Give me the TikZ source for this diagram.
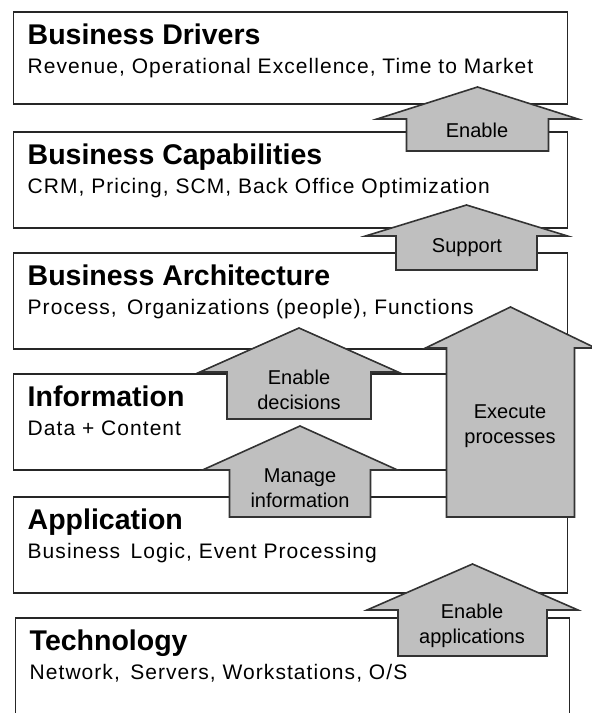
\documentclass[tikz,border=0pt]{standalone}
\usepackage{fontspec}
\setmainfont{Liberation Sans}
\newfontfamily\subfont[LetterSpace=5]{Liberation Sans}
\usetikzlibrary{positioning}
\tikzset{layer/.style={draw=black!85,line width=1.6pt,anchor=north west,inner sep=0pt,minimum width=554pt}}
\tikzset{ttl/.style={anchor=base west,inner sep=0pt,font=\fontsize{28.5}{32}\selectfont\bfseries}}
\tikzset{sub/.style={anchor=base west,inner sep=0pt,font=\fontsize{21}{24}\subfont}}
\tikzset{blk/.style={draw=black!80,line width=1.6pt,fill=black!25,line join=miter}}
\tikzset{lbl/.style={align=center,inner sep=0pt,font=\fontsize{20}{25}\selectfont}}

% block arrow pointing up: centre x, tip y, wing y, bottom y, head half width, shaft half width
\newcommand{\blockup}[6]{%
  \draw[blk] (#1,#2) -- ({#1+#5},#3) -- ({#1+#6},#3) -- ({#1+#6},#4)
    -- ({#1-#6},#4) -- ({#1-#6},#3) -- ({#1-#5},#3) -- cycle;}

\begin{document}
\begin{tikzpicture}[x=1pt,y=-1pt]
\useasboundingbox (0,0) rectangle (592,713);

% the layers
\node[layer,minimum height=92pt] (drivers) at (12.5,11) {};
\node[ttl] (driversT) at ([xshift=15pt,yshift=-33.5pt]drivers.north west) {Business Drivers};
\node[sub] (driversS) at ([xshift=15pt,yshift=-62.5pt]drivers.north west) {Revenue, Operational Excellence, Time to Market};

\node[layer,minimum height=96pt] (capab) at (12.5,131) {};
\node[ttl] (capabT) at ([xshift=15pt,yshift=-33.5pt]capab.north west) {Business Capabilities};
\node[sub] (capabS) at ([xshift=15pt,yshift=-62.5pt]capab.north west) {CRM, Pricing, SCM, Back Office Optimization};

\node[layer,minimum height=96pt] (arch) at (12.5,252) {};
\node[ttl] (archT) at ([xshift=15pt,yshift=-33.5pt]arch.north west) {Business Architecture};
\node[sub] (archS) at ([xshift=15pt,yshift=-62.5pt]arch.north west) {Process,\, Organizations (people), Functions};

\node[layer,minimum height=96pt] (info) at (12.5,373) {};
\node[ttl] (infoT) at ([xshift=15pt,yshift=-33.5pt]info.north west) {Information};
\node[sub] (infoS) at ([xshift=15pt,yshift=-62.5pt]info.north west) {Data + Content};

\node[layer,minimum height=96pt] (appl) at (12.5,496) {};
\node[ttl] (applT) at ([xshift=15pt,yshift=-33.5pt]appl.north west) {Application};
\node[sub] (applS) at ([xshift=15pt,yshift=-62.5pt]appl.north west) {Business\, Logic, Event Processing};

\node[layer,minimum height=110pt] (tech) at (14.5,617) {};
\node[ttl] (techT) at ([xshift=15pt,yshift=-33.5pt]tech.north west) {Technology};
\node[sub] (techS) at ([xshift=15pt,yshift=-62.5pt]tech.north west) {Network,\, Servers, Workstations, O/S};

% arrows between the layers
\blockup{477.5}{87}{119}{151}{100.5}{71}
\node[lbl] (enable) at (477,130) {Enable};

\blockup{466.5}{205}{236}{270}{101}{70.5}
\node[lbl] (support) at (467,248) {Support};

\blockup{299}{328}{372}{419}{99}{72}
\node[lbl] (decide) at (299,390) {Enable\\decisions};

\blockup{300}{426}{470}{517}{97.5}{70.5}
\node[lbl] (manage) at (300,488) {Manage\\information};

\blockup{510.5}{307}{348}{517}{85}{64}
\node[lbl] (execute) at (510,426) {Execute\\processes};

\blockup{472.5}{564}{610}{656}{105.5}{74.5}
\node[lbl] (apps) at (472,626) {Enable\\applications};
\end{tikzpicture}
\end{document}
